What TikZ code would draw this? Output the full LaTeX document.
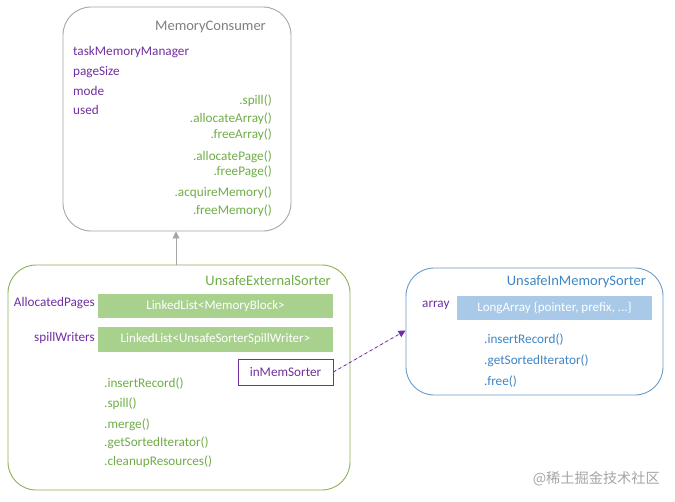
\documentclass[tikz,border=0pt]{standalone}
\usepackage{fontspec}
\setmainfont{Carlito}
\newfontfamily\cjkfont{Noto Sans CJK SC}
\usetikzlibrary{arrows.meta}
\definecolor{cgray}{HTML}{A6A6A6}
\definecolor{cgraytxt}{HTML}{7F7F7F}
\definecolor{cpurple}{HTML}{7030A0}
\definecolor{cgreen}{HTML}{70AD47}
\definecolor{cgreenline}{HTML}{8DB255}
\definecolor{cgreenbar}{HTML}{A9D18E}
\definecolor{cblue}{HTML}{6A9BC8}
\definecolor{cbluetxt}{HTML}{3E86C6}
\definecolor{cbluebar}{HTML}{A8C9E8}
\begin{document}
\begin{tikzpicture}[x=1pt,y=-1pt,
  box/.style={draw, line width=0.9pt, rounded corners=28pt, inner sep=0pt, fill=white},
  ttl/.style={font=\fontsize{14.5}{16}\selectfont, anchor=east, inner sep=0pt},
  fld/.style={font=\fontsize{13.2}{15}\selectfont, text=cpurple, inner sep=0pt},
  mth/.style={font=\fontsize{13.2}{15}\selectfont, text=cgreen, inner sep=0pt},
  bmth/.style={font=\fontsize{13.2}{15}\selectfont, text=cbluetxt, inner sep=0pt, anchor=west},
  bar/.style={inner sep=0pt, text=white, font=\fontsize{13}{15}\selectfont},
  arr/.style={-{Triangle[width=7pt,length=7pt]}}
]
\useasboundingbox (0,0) rectangle (675,501);
\fill[white] (0,0) rectangle (675,501);

% MemoryConsumer
\node[box, draw=cgray, minimum width=228pt, minimum height=224pt] (mc) at (177,119) {};
\node[ttl, text=cgraytxt] (mct) at (266,27) {MemoryConsumer};
\node[fld, anchor=west] (f1) at (73,52) {taskMemoryManager};
\node[fld, anchor=west] (f2) at (73,72) {pageSize};
\node[fld, anchor=west] (f3) at (73,91) {mode};
\node[fld, anchor=west] (f4) at (73,110) {used};
\node[mth, anchor=east] (m1) at (272,101) {.spill()};
\node[mth, anchor=east] (m2) at (272,119) {.allocateArray()};
\node[mth, anchor=east] (m3) at (272,135) {.freeArray()};
\node[mth, anchor=east] (m4) at (272,157) {.allocatePage()};
\node[mth, anchor=east] (m5) at (272,172) {.freePage()};
\node[mth, anchor=east] (m6) at (272,193) {.acquireMemory()};
\node[mth, anchor=east] (m7) at (272,211) {.freeMemory()};

% UnsafeExternalSorter
\node[box, draw=cgreenline, minimum width=342pt, minimum height=225pt] (ues) at (179,377.5) {};
\node[ttl, text=cgreen] (uest) at (331,281) {UnsafeExternalSorter};
\node[bar, fill=cgreenbar, minimum width=235pt, minimum height=24pt] (b1) at (215.5,306) {LinkedList<MemoryBlock>};
\node[bar, fill=cgreenbar, minimum width=235pt, minimum height=25pt] (b2) at (215.5,339.5) {LinkedList<UnsafeSorterSpillWriter>};
\node[fld, anchor=east] (l1) at (95,303) {AllocatedPages};
\node[fld, anchor=east] (l2) at (95,338) {spillWriters};
\node[draw=cpurple, line width=0.8pt, fill=white, text=cpurple, font=\fontsize{13.2}{15}\selectfont, inner sep=0pt, minimum width=95pt, minimum height=26pt] (ims0) at (285.5,372) {inMemSorter};
\node[mth, anchor=west] (e1) at (104,384) {.insertRecord()};
\node[mth, anchor=west] (e2) at (104,404) {.spill()};
\node[mth, anchor=west] (e3) at (104,425) {.merge()};
\node[mth, anchor=west] (e4) at (104,443) {.getSortedIterator()};
\node[mth, anchor=west] (e5) at (104,462) {.cleanupResources()};

% UnsafeInMemorySorter
\node[box, draw=cblue, minimum width=257pt, minimum height=127pt] (ims) at (534.5,331.5) {};
\node[ttl, text=cbluetxt] (imst) at (646,282) {UnsafeInMemorySorter};
\node[bar, fill=cbluebar, minimum width=195pt, minimum height=24pt] (b3) at (554.5,308) {LongArray \{pointer, prefix, ...\}};
\node[fld, anchor=west] (l3) at (422,305) {array};
\node[bmth] (i1) at (484,340) {.insertRecord()};
\node[bmth] (i2) at (484,361) {.getSortedIterator()};
\node[bmth] (i3) at (484,382) {.free()};

% connectors
\draw[arr, draw=cgray, fill=cgray, line width=0.9pt] ([xshift=-3pt]ues.north) -- ([xshift=-3pt]ues.north |- mc.south);
\draw[arr, draw=cpurple, fill=cpurple, dashed, line width=0.8pt] (ims0.east) -- ([yshift=1pt]ims.west);

% watermark
\node[inner sep=0pt, anchor=east, text=black!35, font=\cjkfont\fontsize{14.2}{16}\selectfont] (wm) at (660,479) {@稀土掘金技术社区};
\end{tikzpicture}
\end{document}
